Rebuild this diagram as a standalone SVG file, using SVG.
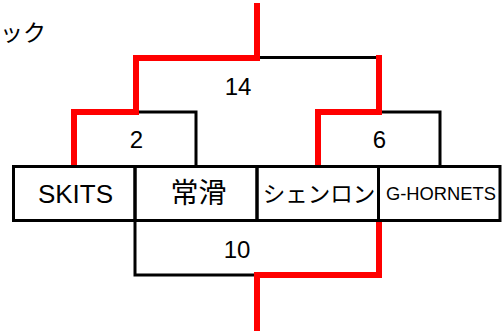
<svg xmlns="http://www.w3.org/2000/svg" width="503" height="331" viewBox="0 0 503 331">
<style>
.t{font-family:"Liberation Sans","Noto Sans CJK JP",sans-serif;fill:#000;text-anchor:middle}
.j{font-family:"Noto Sans CJK JP",sans-serif;fill:#000;text-anchor:middle}
.blk{fill:none;stroke:#000;stroke-width:3;stroke-linejoin:miter}
.red{fill:none;stroke:#ff0000;stroke-width:6;stroke-linejoin:miter}
</style>
<rect width="503" height="331" fill="#fff"/>
<text class="j" x="0" y="41" font-size="23" style="text-anchor:start">ック</text>
<g id="connectors">
<path class="blk" d="M257,57.5 H379"/>
<path class="blk" d="M136,112 H196 V166"/>
<path class="blk" d="M379,112 H440 V166"/>
<path class="blk" d="M135,221 V275 H257"/>
<path class="red" d="M74,166 V112 H136 V58 H257 V3"/>
<path class="red" d="M318,166 V112 H379 V55"/>
<path class="red" d="M379,221 V275 H257 V331"/>
<text class="t" x="238" y="95" font-size="24">14</text>
<text class="t" x="136.5" y="148" font-size="24">2</text>
<text class="t" x="379.5" y="148" font-size="24">6</text>
<text class="t" x="237" y="258" font-size="24">10</text>
</g>
<g id="team-skits">
<rect class="blk" x="13.5" y="166.5" width="121.5" height="54"/>
<text class="t" x="75.5" y="203" font-size="26">SKITS</text>
</g>
<g id="team-tokoname">
<rect class="blk" x="135" y="166.5" width="122" height="54"/>
<text class="j" x="198.5" y="203" font-size="28">常滑</text>
</g>
<g id="team-shenron">
<rect class="blk" x="257" y="166.5" width="121.5" height="54"/>
<text class="j" x="319" y="202" font-size="22.5">シェンロン</text>
</g>
<g id="team-ghornets">
<rect class="blk" x="378.5" y="166.5" width="121.5" height="54"/>
<text class="t" x="441" y="200" font-size="19" textLength="110" lengthAdjust="spacingAndGlyphs">G-HORNETS</text>
</g>
</svg>
